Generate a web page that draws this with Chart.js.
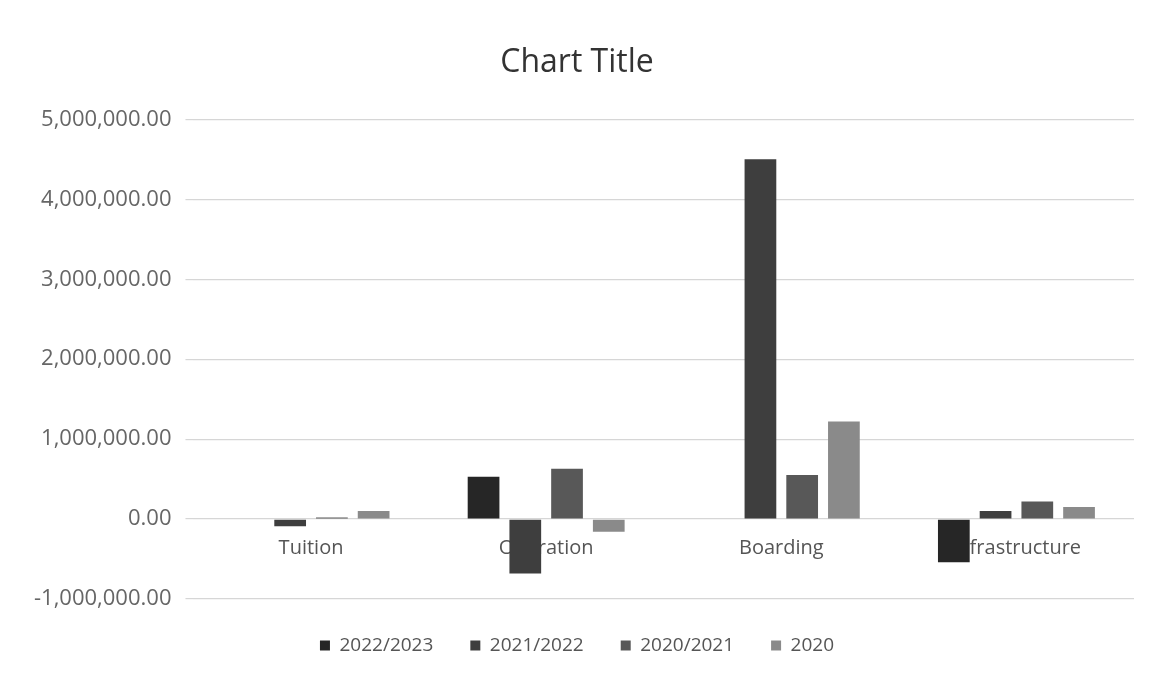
<!DOCTYPE html>
<html>
<head>
<meta charset="utf-8">
<script src="https://cdn.jsdelivr.net/npm/chart.js@4/dist/chart.umd.min.js"></script>
<style>
  html, body { margin: 0; padding: 0; background: #fff; }
  #wrap { width: 1156px; height: 679px; }
</style>
</head>
<body>
<div id="wrap"><canvas id="chart" width="1156" height="679"></canvas></div>
<script>
const categories = ["Tuition", "Operation", "Boarding", "Infrastructure"];
const seriesNames = ["2022/2023", "2021/2022", "2020/2021", "2020"];
const s2223 = [0, 530000, 0, -540000];
const s2122 = [-90000, -680000, 4500000, 100000];
const s2021 = [20000, 630000, 550000, 220000];
const s2020 = [100000, -160000, 1220000, 150000];
const yTicks = [-1000000, 0, 1000000, 2000000, 3000000, 4000000, 5000000];

const colors = ["#262626", "#3e3e3e", "#585858", "#8a8a8a"];
const values = [s2223, s2122, s2021, s2020];

const fontFam = "'Open Sans', 'Noto Sans', sans-serif";

new Chart(document.getElementById("chart"), {
  type: "bar",
  data: {
    labels: categories,
    datasets: seriesNames.map((name, k) => ({
      label: name,
      data: values[k],
      backgroundColor: colors[k],
      barPercentage: 0.76,
      categoryPercentage: 0.71
    }))
  },
  options: {
    responsive: false,
    animation: false,
    layout: { padding: { left: 20, right: 22, top: 0, bottom: 14 } },
    plugins: {
      title: {
        display: true,
        text: "Chart Title",
        color: "#333",
        font: { family: fontFam, size: 32, weight: "normal" },
        padding: { top: 44, bottom: 37 }
      },
      legend: {
        position: "bottom",
        labels: {
          color: "#555",
          font: { family: fontFam, size: 19 },
          boxWidth: 10,
          boxHeight: 10,
          padding: 37
        }
      },
      tooltip: { enabled: false }
    },
    scales: {
      x: {
        position: { y: 0 },
        grid: { display: false },
        border: { display: false },
        ticks: {
          color: "#555",
          font: { family: fontFam, size: 20 },
          padding: 9
        }
      },
      y: {
        min: -1000000,
        max: 5000000,
        afterBuildTicks: (axis) => { axis.ticks = yTicks.map(v => ({ value: v })); },
        grid: { color: "#d6d6d6", lineWidth: 1.2 },
        border: { display: false },
        ticks: {
          color: "#666",
          font: { family: fontFam, size: 22 },
          padding: 14,
          callback: (v) => Number(v).toLocaleString("en-US", { minimumFractionDigits: 2, maximumFractionDigits: 2 })
        }
      }
    }
  }
});
</script>
</body>
</html>
